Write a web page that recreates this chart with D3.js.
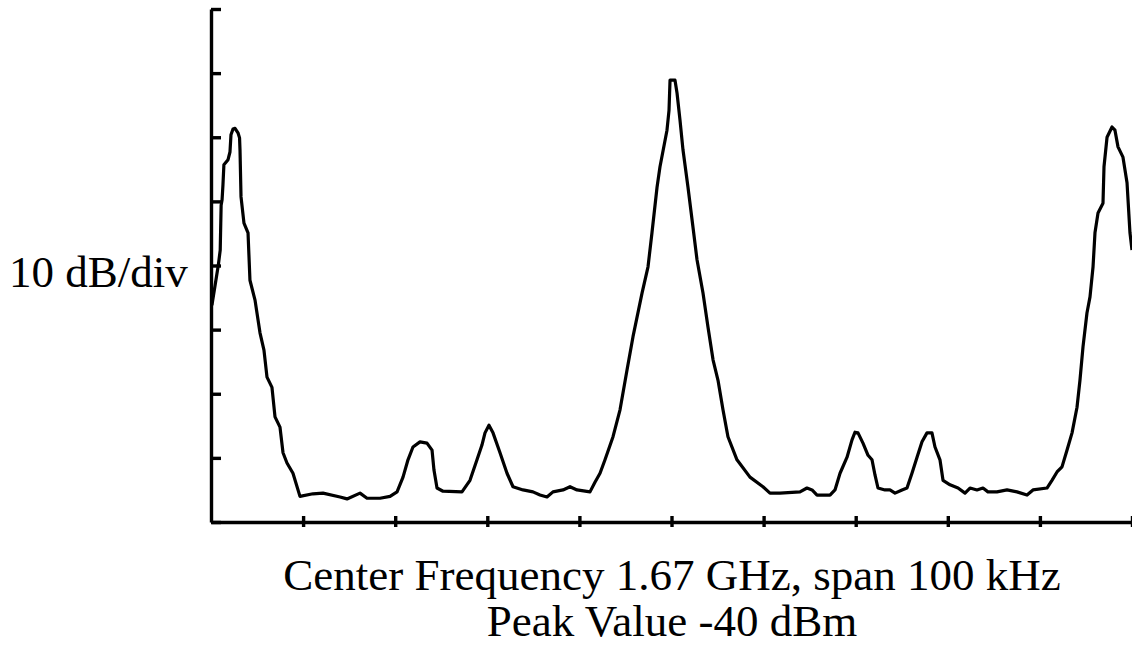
<!DOCTYPE html>
<html>
<head>
<meta charset="utf-8">
<script src="https://cdn.jsdelivr.net/npm/d3@7"></script>
<style>
  body { margin: 0; background: #fff; }
  text { font-family: "Liberation Serif", "DejaVu Serif", serif; fill: #000; }
</style>
</head>
<body>
<svg id="chart" width="1132" height="646"></svg>
<script>
// offset from start of span (kHz) and measured level (dBm)
var freqKHz = [0.1, 0.8, 1.0, 1.1, 1.2, 1.3, 1.4, 1.85, 2.06, 2.17, 2.39, 2.61, 2.93, 3.1, 3.15, 3.26, 3.58, 4.02, 4.23,
  4.78, 5.32, 5.75, 6.08, 6.62, 6.95, 7.49, 7.82, 8.25, 8.9, 9.66, 11.07, 12.16, 14.01, 14.77, 16.18, 16.94, 18.35,
  19.44, 20.2, 20.85, 21.39, 21.93, 22.69, 23.45, 24.0, 24.21, 24.54, 25.19, 27.25, 28.12, 28.88, 29.42, 29.75, 30.18,
  30.62, 31.38, 32.14, 32.79, 33.88, 34.96, 35.72, 36.48, 37.13, 38.22, 38.98, 39.74, 41.15, 41.69, 42.24, 42.78,
  43.65, 44.41, 45.17, 45.82, 46.8, 47.45, 47.88, 48.43, 48.75, 49.51, 49.73, 49.84, 50.38, 50.6, 50.92, 51.25, 51.79,
  52.33, 52.77, 53.42, 53.96, 54.51, 55.05, 55.59, 56.13, 57.11, 58.52, 59.93, 60.69, 61.78, 63.95, 64.71, 65.26,
  65.8, 67.21, 67.75, 68.3, 69.06, 69.6, 69.92, 70.25, 70.79, 71.34, 71.77, 72.1, 72.42, 73.18, 73.72, 74.27, 75.03,
  75.57, 76.11, 76.66, 77.2, 77.74, 78.28, 78.61, 79.15, 79.48, 80.24, 81.11, 81.87, 82.41, 83.17, 83.82, 84.36,
  85.34, 86.43, 87.51, 88.6, 89.25, 90.77, 91.31, 91.86, 92.4, 92.94, 93.49, 94.03, 94.35, 94.68, 95.11, 95.44,
  95.77, 95.98, 96.31, 96.85, 96.96, 97.29, 97.83, 98.15, 98.48, 99.02, 99.46, 99.78, 100];
var levelDbm = [-76.2, -69.9, -67.6, -60.6, -59.8, -57.4, -54.3, -53.5, -52.3, -49.6, -48.7, -48.6, -49.3, -50.1, -52.0,
  -59.3, -63.4, -64.9, -72.3, -75.4, -80.5, -83.2, -87.4, -89.0, -93.6, -95.2, -99.2, -100.8, -102.4, -106.0, -105.6,
  -105.5, -106.1, -106.4, -105.5, -106.3, -106.3, -106.0, -105.3, -103.0, -100.3, -98.3, -97.5, -97.7, -98.8, -101.9,
  -104.7, -105.2, -105.3, -103.5, -100.3, -98.0, -96.1, -94.9, -96.1, -99.2, -102.4, -104.5, -105.0, -105.3, -105.8,
  -106.1, -105.3, -105.0, -104.5, -105.0, -105.3, -103.8, -102.4, -100.3, -96.7, -92.5, -86.3, -81.1, -74.3, -70.2,
  -64.9, -57.8, -54.6, -48.9, -45.8, -41.1, -41.1, -43.1, -47.3, -52.0, -57.8, -64.0, -69.1, -74.3, -79.6, -84.7,
  -87.9, -92.5, -96.7, -100.3, -103.0, -104.5, -105.5, -105.5, -105.3, -104.7, -105.0, -105.8, -105.8, -105.0,
  -102.4, -99.9, -97.2, -96.0, -96.1, -97.7, -99.6, -100.3, -102.7, -104.7, -105.0, -105.0, -105.5, -105.0, -104.7,
  -102.4, -99.9, -97.5, -96.1, -96.1, -98.3, -100.3, -103.5, -104.2, -104.7, -105.5, -104.7, -105.0, -104.7, -105.3,
  -105.3, -105.0, -105.3, -105.8, -105.0, -104.7, -103.5, -102.2, -101.4, -98.8, -96.1, -92.1, -87.9, -82.7, -77.4,
  -74.9, -70.2, -64.9, -61.8, -60.3, -54.6, -50.0, -48.4, -48.9, -51.5, -53.1, -57.1, -64.9, -67.6];

var xTicks = [10, 20, 30, 40, 50, 60, 70, 80, 90, 100];
var yTicks = [-110, -100, -90, -80, -70, -60, -50, -40, -30];
var yLabel = "10 dB/div";
var captionLines = ["Center Frequency 1.67 GHz, span 100 kHz", "Peak Value -40 dBm"];

(function() {
  var svg = d3.select("#chart");
  var m = { left: 211, right: 1132, top: 9, bottom: 522 };

  var x = d3.scaleLinear().domain([0, 100]).range([m.left, m.right]);
  var y = d3.scaleLinear().domain([-110, -30]).range([m.bottom, m.top]);

  // y axis, ticks pointing into the plot
  var yAxis = svg.append("g")
    .attr("transform", "translate(" + m.left + ",0)")
    .call(d3.axisLeft(y).tickValues(yTicks).tickSizeInner(-10).tickSizeOuter(0).tickFormat(""));
  yAxis.selectAll("path, line").attr("stroke", "#000").attr("stroke-width", 3.4);

  // x axis, short ticks crossing the line
  var xAxis = svg.append("g")
    .attr("transform", "translate(0," + m.bottom + ")")
    .call(d3.axisBottom(x).tickValues(xTicks).tickSizeInner(-6).tickSizeOuter(0).tickFormat(""));
  xAxis.selectAll("path, line").attr("stroke", "#000").attr("stroke-width", 3.4);
  xAxis.selectAll(".tick line").attr("y1", 5).attr("y2", -6);

  // spectrum trace
  var pts = freqKHz.map(function(f, i) { return [f, levelDbm[i]]; });
  var line = d3.line()
    .x(function(d) { return x(d[0]); })
    .y(function(d) { return y(d[1]); });

  svg.append("path")
    .datum(pts)
    .attr("d", line)
    .attr("fill", "none")
    .attr("stroke", "#000")
    .attr("stroke-width", 3.2)
    .attr("stroke-linejoin", "round");

  svg.append("text")
    .attr("x", 9)
    .attr("y", 287)
    .style("font-size", "45px")
    .text(yLabel);

  svg.selectAll(".caption")
    .data(captionLines)
    .enter()
    .append("text")
    .attr("class", "caption")
    .attr("x", 672)
    .attr("y", function(d, i) { return 590 + i * 46; })
    .attr("text-anchor", "middle")
    .style("font-size", "45px")
    .text(function(d) { return d; });
})();
</script>
</body>
</html>
